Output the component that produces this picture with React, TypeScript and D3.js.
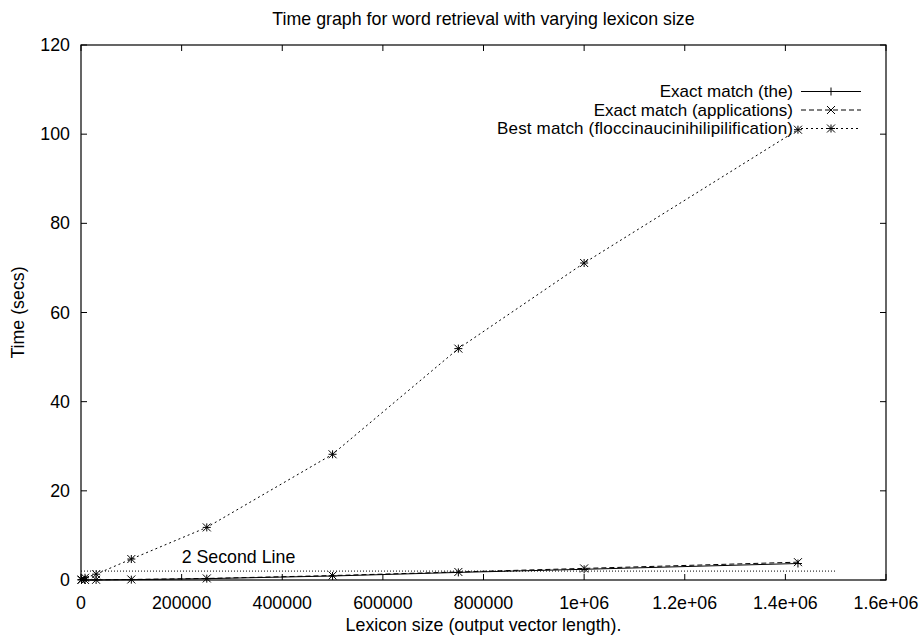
import * as d3 from 'd3';
import { useRef, useEffect } from 'react';

const lexiconSizes = [1000, 8000, 30000, 100000, 250000, 500000, 750000, 1000000, 1425000];
const exactThe = [0, 0, 0.02, 0.08, 0.3, 0.9, 1.7, 2.4, 3.7];
const exactApplications = [0, 0.01, 0.04, 0.12, 0.35, 1.0, 1.8, 2.6, 4.0];
const bestMatch = [0.1, 0.5, 1.3, 4.7, 11.8, 28.2, 51.9, 71.1, 101];
const seriesNames = [
  'Exact match (the)',
  'Exact match (applications)',
  'Best match (floccinaucinihilipilification)',
];
const xTicks = [0, 200000, 400000, 600000, 800000, 1000000, 1200000, 1400000, 1600000];
const xTickLabels = ['0', '200000', '400000', '600000', '800000', '1e+06', '1.2e+06', '1.4e+06', '1.6e+06'];
const yTicks = [0, 20, 40, 60, 80, 100, 120];
const twoSecond = { value: 2, from: 0, to: 1500000, label: '2 Second Line' };

export default function App() {
  const svgRef = useRef(null);

  useEffect(() => {
    const width = 920;
    const height = 635;
    const m = { left: 81, right: 34, top: 45, bottom: 55 };
    const font = '"Liberation Sans", Arial, sans-serif';
    const fs = 17.8;

    const svg = d3.select(svgRef.current);
    svg.selectAll('*').remove();
    svg.attr('width', width).attr('height', height).style('display', 'block');

    const x = d3.scaleLinear().domain([0, 1600000]).range([m.left, width - m.right]);
    const y = d3.scaleLinear().domain([0, 120]).range([height - m.bottom, m.top]);

    const g = svg.append('g');

    // title
    g.append('text')
      .attr('x', (m.left + width - m.right) / 2)
      .attr('y', 25)
      .attr('text-anchor', 'middle')
      .attr('font-family', font)
      .attr('font-size', fs)
      .text('Time graph for word retrieval with varying lexicon size');

    // ticks (inward, mirrored)
    const tickLen = 6;
    xTicks.forEach((t, i) => {
      g.append('line').attr('x1', x(t)).attr('x2', x(t))
        .attr('y1', y(0)).attr('y2', y(0) - tickLen).attr('stroke', '#000');
      g.append('line').attr('x1', x(t)).attr('x2', x(t))
        .attr('y1', y(120)).attr('y2', y(120) + tickLen).attr('stroke', '#000');
      g.append('text')
        .attr('x', x(t)).attr('y', y(0) + 29)
        .attr('text-anchor', 'middle')
        .attr('font-family', font).attr('font-size', fs)
        .text(xTickLabels[i]);
    });
    yTicks.forEach((t) => {
      g.append('line').attr('x1', x(0)).attr('x2', x(0) + tickLen)
        .attr('y1', y(t)).attr('y2', y(t)).attr('stroke', '#000');
      g.append('line').attr('x1', x(1600000)).attr('x2', x(1600000) - tickLen)
        .attr('y1', y(t)).attr('y2', y(t)).attr('stroke', '#000');
      g.append('text')
        .attr('x', x(0) - 11).attr('y', y(t) + 6)
        .attr('text-anchor', 'end')
        .attr('font-family', font).attr('font-size', fs)
        .text(t);
    });

    // axis labels
    g.append('text')
      .attr('x', (m.left + width - m.right) / 2)
      .attr('y', height - 4)
      .attr('text-anchor', 'middle')
      .attr('font-family', font).attr('font-size', fs)
      .text('Lexicon size (output vector length).');
    g.append('text')
      .attr('transform', `translate(24, ${(m.top + height - m.bottom) / 2}) rotate(-90)`)
      .attr('text-anchor', 'middle')
      .attr('font-family', font).attr('font-size', fs)
      .text('Time (secs)');

    // 2 second line
    g.append('line')
      .attr('x1', x(twoSecond.from)).attr('x2', x(twoSecond.to))
      .attr('y1', y(twoSecond.value)).attr('y2', y(twoSecond.value))
      .attr('stroke', '#000').attr('stroke-width', 1).attr('stroke-dasharray', '1,2');
    g.append('text')
      .attr('x', x(200000)).attr('y', y(twoSecond.value) - 8)
      .attr('font-family', font).attr('font-size', fs)
      .text(twoSecond.label);

    const series = [
      { values: exactThe, dash: null, marker: 'plus' },
      { values: exactApplications, dash: '5,3', marker: 'cross' },
      { values: bestMatch, dash: '2,3', marker: 'star' },
    ];

    const line = d3.line<number>()
      .x((_, i) => x(lexiconSizes[i]))
      .y((d) => y(d));

    const drawMarker = (sel, cx, cy, type) => {
      const s = 4;
      const parts = [];
      if (type === 'plus' || type === 'star') {
        parts.push([cx - s, cy, cx + s, cy], [cx, cy - s, cx, cy + s]);
      }
      if (type === 'cross' || type === 'star') {
        parts.push([cx - s, cy - s, cx + s, cy + s], [cx - s, cy + s, cx + s, cy - s]);
      }
      parts.forEach(([a, b, c, d]) => {
        sel.append('line').attr('x1', a).attr('y1', b).attr('x2', c).attr('y2', d)
          .attr('stroke', '#000').attr('stroke-width', 1);
      });
    };

    series.forEach((s) => {
      const p = g.append('path')
        .attr('d', line(s.values))
        .attr('fill', 'none')
        .attr('stroke', '#000')
        .attr('stroke-width', 1);
      if (s.dash) p.attr('stroke-dasharray', s.dash);
      s.values.forEach((v, i) => drawMarker(g, x(lexiconSizes[i]), y(v), s.marker));
    });

    // legend
    const legX = 793;
    const legY0 = 91.5;
    const legFs = 17;
    series.forEach((s, i) => {
      const ly = legY0 + i * 18.5;
      g.append('text')
        .attr('x', legX).attr('y', ly + 5.5)
        .attr('text-anchor', 'end')
        .attr('font-family', font).attr('font-size', legFs)
        .attr('textLength', i === 2 ? 296 : null)
        .text(seriesNames[i]);
      const l = g.append('line')
        .attr('x1', legX + 8).attr('x2', legX + 68)
        .attr('y1', ly).attr('y2', ly)
        .attr('stroke', '#000').attr('stroke-width', 1);
      if (s.dash) l.attr('stroke-dasharray', s.dash);
      drawMarker(g, legX + 38, ly, s.marker);
    });

    // border
    g.append('rect')
      .attr('x', x(0)).attr('y', y(120))
      .attr('width', x(1600000) - x(0)).attr('height', y(0) - y(120))
      .attr('fill', 'none').attr('stroke', '#000').attr('stroke-width', 1.2);
  }, []);

  return <svg ref={svgRef} style={{ position: 'absolute', left: 0, top: 0 }}></svg>;
}
